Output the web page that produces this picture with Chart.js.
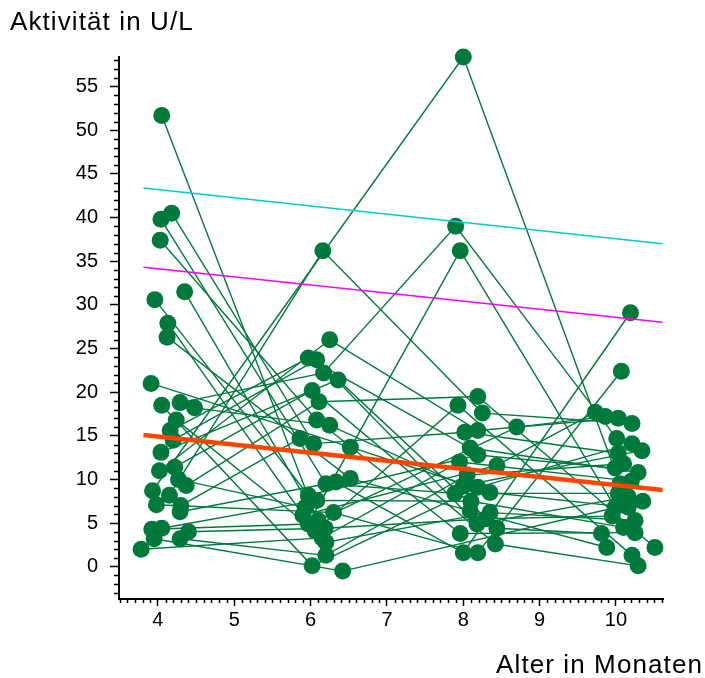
<!DOCTYPE html>
<html>
<head>
<meta charset="utf-8">
<script src="https://cdn.jsdelivr.net/npm/chart.js@4"></script>
<style>
  body { margin: 0; background: #fff; }
  canvas { display: block; }
</style>
</head>
<body>
<canvas id="chart" width="705" height="678"></canvas>
<script>
// one entry per child, same index in every visit (null = visit missed)
const age4  = [4.05, 3.93, 4.15, 4.29, 3.92, 4.18, 4.04, 4.03, 3.96, 4.13, 4.12, 4.35, 3.91, 4.05, 4.48, 4.24, 4.16, 4.20, 4.04, 4.02, 4.22, 4.37, 3.98, 4.29, 4.05, 4.40, 4.29, 3.78, 3.95, 4.27, 4.30];
const act4  = [51.7, 8.7, 8.2, 18.8, 4.3, 40.5, 39.8, 37.4, 30.6, 27.9, 26.3, 31.5, 21.0, 18.5, 18.2, 16.8, 15.6, 14.5, 13.1, 11.0, 11.4, 9.3, 7.1, 6.3, 4.4, 4.0, 3.2, 2.0, 3.2, 10.0, 7.0];
const age6  = [6.20, null, 6.16, 6.17, 5.97, 6.04, 6.20, 6.08, 5.97, 5.90, 6.52, 6.10, 6.52, 6.02, 6.25, 6.06, 5.97, 6.08, 6.36, 6.25, 6.02, 6.11, 6.30, 6.33, 6.08, 6.19, 6.20, 6.15, 6.42, 5.93, 5.86];
const act6  = [2.8, null, 36.2, 22.2, 4.9, 14.1, 9.5, 16.8, 8.2, 5.9, 10.1, 5.3, 13.7, 0.1, 16.2, 4.1, 23.9, 23.7, 21.4, 26.0, 20.2, 18.9, 6.2, 9.7, 7.6, 4.4, 1.3, 3.3, -0.5, 6.8, 14.7];
const age8  = [8.35, 8.00, 8.25, 7.90, 7.96, 8.02, 7.89, 7.96, 8.19, 8.44, 8.09, 8.70, 8.35, 8.19, 8.00, 7.93, 8.09, 8.18, 8.44, 8.19, 8.42, 8.19, 8.19, 8.00, 8.10, 8.30, 8.05, 7.95, null, null, null];
const act8  = [6.2, 58.4, 17.6, 39.0, 36.2, 15.4, 8.4, 3.8, 12.8, 11.6, 6.4, 16.0, 8.5, 9.1, 9.3, 18.5, 13.6, 4.9, 4.4, 15.6, 2.6, 19.5, 1.6, 1.6, 7.5, 5.5, 10.5, 12.0, null, null, null];
const age10 = [10.25, 10.05, 10.21, 10.01, 9.99, 10.03, 10.03, 10.25, 9.99, 9.73, 9.88, 9.86, 10.16, 10.21, 10.34, 10.21, 10.29, 10.16, 9.81, 10.03, 10.29, 10.51, 10.07, 10.19, 10.10, 9.95, 10.10, 10.20, 10.35, null, null];
const act10 = [5.3, 9.5, 16.4, 14.7, 6.8, 13.0, 8.4, 3.9, 11.3, 17.7, 2.2, 17.2, 6.8, 14.1, 13.3, 1.3, 10.8, 8.0, 3.8, 17.0, 0.1, 2.2, 22.4, 29.1, 4.5, 5.8, 11.8, 9.8, 7.5, null, null];

// fitted trend and reference curves (age, value at both ends)
const trendAge = [3.81, 10.61];
const trendAct = [15.1, 8.8];
const upperAct = [43.4, 37.0];
const midAct   = [34.3, 28.0];

const green = '#00793d';

const datasets = [];
// lines go first in the list but get a lower order so they sit on top
datasets.push({ data: trendAge.map((a, i) => ({ x: a, y: trendAct[i] })), borderColor: '#ff4500', borderWidth: 4.5, order: -1 });
datasets.push({ data: trendAge.map((a, i) => ({ x: a, y: upperAct[i] })), borderColor: '#00cccc', borderWidth: 1.5, order: -1 });
datasets.push({ data: trendAge.map((a, i) => ({ x: a, y: midAct[i] })), borderColor: '#ff00ff', borderWidth: 1.5, order: -1 });

for (let i = 0; i < age4.length; i++) {
  const pts = [];
  [[age4, act4], [age6, act6], [age8, act8], [age10, act10]].forEach(([ages, acts]) => {
    if (ages[i] !== null) pts.push({ x: ages[i], y: acts[i] });
  });
  datasets.push({
    data: pts,
    borderColor: green,
    borderWidth: 1.4,
    pointRadius: 8.5,
    pointBackgroundColor: green,
    pointBorderWidth: 0
  });
}

// minor tick marks plus the two axis captions
const extras = {
  id: 'extras',
  afterDraw(chart) {
    const { ctx, scales: { x, y } } = chart;
    ctx.save();
    ctx.strokeStyle = '#000';
    ctx.lineWidth = 1.5;
    ctx.beginPath();
    for (let v = -3; v <= 58; v++) {
      if (v % 5 === 0) continue;
      const py = Math.round(y.getPixelForValue(v)) + 0.5;
      ctx.moveTo(x.left, py);
      ctx.lineTo(x.left - 5, py);
    }
    for (let k = 35; k <= 106; k++) {
      if (k % 10 === 0) continue;
      const px = Math.round(x.getPixelForValue(k / 10)) + 0.5;
      ctx.moveTo(px, y.bottom);
      ctx.lineTo(px, y.bottom + 4);
    }
    ctx.stroke();

    ctx.fillStyle = '#000';
    ctx.font = '26px "Liberation Sans", Arial, sans-serif';
    ctx.letterSpacing = '1.1px';
    ctx.textBaseline = 'alphabetic';
    ctx.textAlign = 'left';
    ctx.fillText('Aktivität in U/L', 10, 30);
    ctx.textAlign = 'right';
    ctx.fillText('Alter in Monaten', 703, 673);
    ctx.restore();
  }
};

const tickFont = { family: '"Liberation Sans", Arial, sans-serif', size: 20 };

new Chart(document.getElementById('chart'), {
  type: 'scatter',
  data: { datasets },
  options: {
    responsive: false,
    devicePixelRatio: 1,
    animation: false,
    showLine: true,
    clip: false,
    elements: { line: { tension: 0, fill: false }, point: { radius: 0, hoverRadius: 0 } },
    layout: { padding: { top: 57, right: 42, left: 0, bottom: 0 } },
    plugins: { legend: { display: false }, tooltip: { enabled: false } },
    events: [],
    scales: {
      x: {
        type: 'linear',
        min: 3.49,
        max: 10.616,
        afterFit: (s) => { s.height = 79; },
        ticks: { stepSize: 1, includeBounds: false, autoSkip: false, maxRotation: 0, color: '#000', font: tickFont, padding: 2 },
        grid: { color: 'rgba(0,0,0,0)', drawOnChartArea: false, tickColor: '#000', tickLength: 7, tickWidth: 1.5 },
        border: { display: true, color: '#000', width: 2 }
      },
      y: {
        type: 'linear',
        min: -3.7,
        max: 58.4,
        afterFit: (s) => { s.width = 119; },
        ticks: { stepSize: 5, includeBounds: false, autoSkip: false, color: '#000', font: tickFont, padding: 12 },
        grid: { color: 'rgba(0,0,0,0)', drawOnChartArea: false, tickColor: '#000', tickLength: 9, tickWidth: 1.5 },
        border: { display: true, color: '#000', width: 2 }
      }
    }
  },
  plugins: [extras]
});
</script>
</body>
</html>
